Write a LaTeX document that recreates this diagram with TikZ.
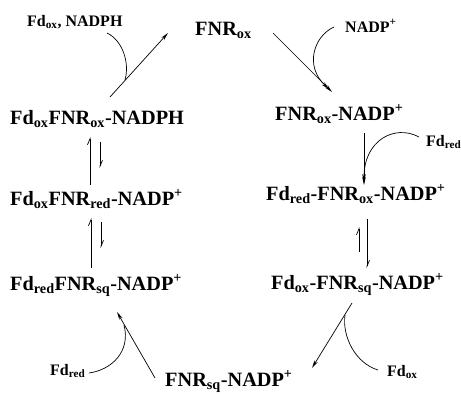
\documentclass[tikz,border=0pt]{standalone}
\usepackage{fontspec}
\setmainfont{Liberation Serif}
\usetikzlibrary{arrows.meta}
\newcommand{\sbs}[1]{\textsubscript{#1}}
\newcommand{\sps}[1]{\textsuperscript{#1}}
\tikzset{
  big/.style={font=\fontsize{20.3}{24}\selectfont\bfseries, inner sep=0pt, anchor=base west},
  small/.style={font=\fontsize{16}{19}\selectfont\bfseries, inner sep=0pt, anchor=base west},
  conn/.style={line width=0.7pt, black},
  arr/.style={conn, -{Stealth[length=8pt,width=3.6pt]}},
  hl/.style={conn, -{Straight Barb[left,length=6pt,width=5pt]}},
}
\begin{document}
\begin{tikzpicture}[x=1pt,y=-1pt]
\useasboundingbox (0,0) rectangle (461,394);
% labels
\node[big] (fnrox) at (195,35) {FNR\sbs{ox}};
\node[big] (a1) at (10,124) {Fd\sbs{ox}FNR\sbs{ox}-NADPH};
\node[big] (a2) at (10,205) {Fd\sbs{ox}FNR\sbs{red}-NADP\sps{+}};
\node[big] (a3) at (10,290) {Fd\sbs{red}FNR\sbs{sq}-NADP\sps{+}};
\node[big] (b1) at (275,120) {FNR\sbs{ox}-NADP\sps{+}};
\node[big] (b2) at (266,200) {Fd\sbs{red}-FNR\sbs{ox}-NADP\sps{+}};
\node[big] (b3) at (271,289) {Fd\sbs{ox}-FNR\sbs{sq}-NADP\sps{+}};
\node[big] (c1) at (165,386) {FNR\sbs{sq}-NADP\sps{+}};
\node[small] (s1) at (27,26) {Fd\sbs{ox}, NADPH};
\node[small] (s2) at (345,32) {NADP\sps{+}};
\node[small] (s3) at (426,146) {Fd\sbs{red}};
\node[small] (s4) at (50,375) {Fd\sbs{red}};
\node[small] (s5) at (387,376) {Fd\sbs{ox}};
% coordinates
\coordinate (tl1) at (110,97); \coordinate (tl2) at (168,33);
\coordinate (tls) at (107,33); \coordinate (tlm) at (125,80);
\coordinate (tr1) at (273,33); \coordinate (tr2) at (332,92);
\coordinate (trs) at (334,27); \coordinate (trm) at (329,89);
\coordinate (r1) at (364,133); \coordinate (r2) at (364,185);
\coordinate (rs) at (419,137); \coordinate (rm) at (364,182);
\coordinate (br1) at (352,303); \coordinate (br2) at (312,368);
\coordinate (brm) at (345,315); \coordinate (bre) at (378,370);
\coordinate (bl1) at (155,378); \coordinate (bl2) at (117,312);
\coordinate (bls) at (89,373); \coordinate (blm) at (124,325);
\coordinate (le1a) at (90,185); \coordinate (le1b) at (90,137);
\coordinate (le2a) at (100,142); \coordinate (le2b) at (100,168);
\coordinate (le3a) at (91,268); \coordinate (le3b) at (91,218);
\coordinate (le4a) at (101,222); \coordinate (le4b) at (101,248);
\coordinate (re1a) at (359,252); \coordinate (re1b) at (359,227);
\coordinate (re2a) at (367,219); \coordinate (re2b) at (367,268);
% arrows
\draw[arr] (tl1) -- (tl2);
\draw[conn] (tls) .. controls (122,40) and (130,62) .. (tlm);
\draw[arr] (tr1) -- (tr2);
\draw[arr] (trs) .. controls (314,36) and (304,66) .. (trm);
\draw[arr] (r1) -- (r2);
\draw[arr] (rs) .. controls (395,124) and (364,140) .. (rm);
\draw[arr] (br1) -- (br2);
\draw[conn] (brm) .. controls (342,336) and (355,363) .. (bre);
\draw[arr] (bl1) -- (bl2);
\draw[conn] (bls) .. controls (111,370) and (131,352) .. (blm);
% equilibria
\draw[hl] (le1a) -- (le1b);
\draw[hl] (le2a) -- (le2b);
\draw[hl] (le3a) -- (le3b);
\draw[hl] (le4a) -- (le4b);
\draw[hl] (re1a) -- (re1b);
\draw[hl] (re2a) -- (re2b);
\end{tikzpicture}
\end{document}
